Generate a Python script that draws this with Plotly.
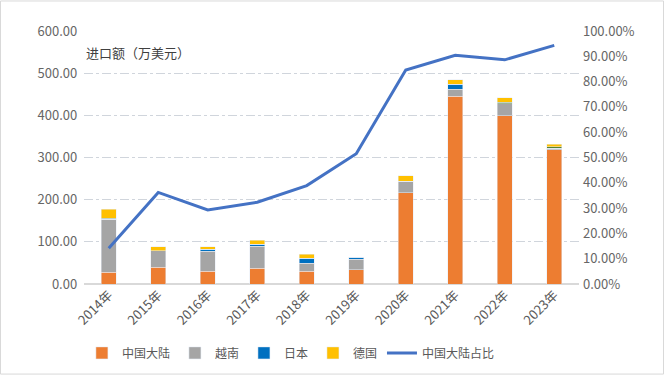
import plotly.graph_objects as go

years = ["2014年", "2015年", "2016年", "2017年", "2018年", "2019年", "2020年", "2021年", "2022年", "2023年"]
china = [28, 40, 30, 37, 30, 34, 217, 445, 399, 318]
vietnam = [126, 39, 48, 52, 19, 25, 27, 17, 29, 4]
japan = [0, 0, 5, 5, 12, 4, 0, 12, 0, 0]
other = [2, 0, 0, 0, 0, 0, 0, 0, 3, 3]
germany = [21, 9, 5, 10, 10, 0, 13, 10, 11, 6]
china_share = [0.141, 0.362, 0.293, 0.323, 0.389, 0.515, 0.846, 0.904, 0.886, 0.943]

font_family = "Noto Sans CJK SC"
bar_w = 0.3

fig = go.Figure()
fig.add_trace(go.Bar(x=years, y=china, name="中国大陆", marker_color="#ED7D31", width=bar_w))
fig.add_trace(go.Bar(x=years, y=vietnam, name="越南", marker_color="#A5A5A5", width=bar_w))
fig.add_trace(go.Bar(x=years, y=japan, name="日本", marker_color="#0070C0", width=bar_w))
fig.add_trace(go.Bar(x=years, y=other, name="其他", marker_color="#548235", width=bar_w, showlegend=False))
fig.add_trace(go.Bar(x=years, y=germany, name="德国", marker_color="#FFC000", width=bar_w))
fig.add_trace(go.Scatter(x=years, y=china_share, name="中国大陆占比", mode="lines",
                         line=dict(color="#4472C4", width=3), yaxis="y2"))

fig.update_layout(
    width=664, height=380,
    barmode="stack",
    paper_bgcolor="white", plot_bgcolor="white",
    margin=dict(l=84, r=85, t=31, b=92),
    font=dict(family=font_family, size=12, color="#595959"),
    xaxis=dict(tickangle=-45, showgrid=False, showline=False, ticks="", automargin=False,
               tickfont=dict(size=13, color="#595959")),
    yaxis=dict(range=[0, 600], dtick=100, tickformat=".2f", showgrid=True, automargin=False,
               gridcolor="#D0D5DC", griddash="dashdot", gridwidth=1,
               zeroline=True, zerolinecolor="#D9D9D9", zerolinewidth=1.5,
               tickfont=dict(size=13, color="#666666"), ticksuffix="  "),
    yaxis2=dict(range=[0, 1], dtick=0.1, tickformat=".2%", overlaying="y", side="right",
                showgrid=False, zeroline=False, automargin=False,
                tickfont=dict(size=13, color="#666666"), tickprefix=" "),
    legend=dict(orientation="h", x=0.418, xanchor="center", y=-0.215, yanchor="top",
                font=dict(size=12, color="#595959"), traceorder="normal"),
    showlegend=True,
    annotations=[dict(text="进口额（万美元）", xref="paper", yref="paper", x=0.0, y=0.915,
                      xanchor="left", yanchor="middle", showarrow=False,
                      font=dict(size=13, color="#404040", family=font_family))],
    shapes=[dict(type="rect", xref="paper", yref="paper", x0=-83.5/495, x1=1 + 84.5/495,
                 y0=-91.5/257, y1=1 + 30.5/257, line=dict(color="#D9D9D9", width=1))],
)

fig.write_html("out.html", config={"displayModeBar": False},
               post_script="document.body.style.margin='0';")
